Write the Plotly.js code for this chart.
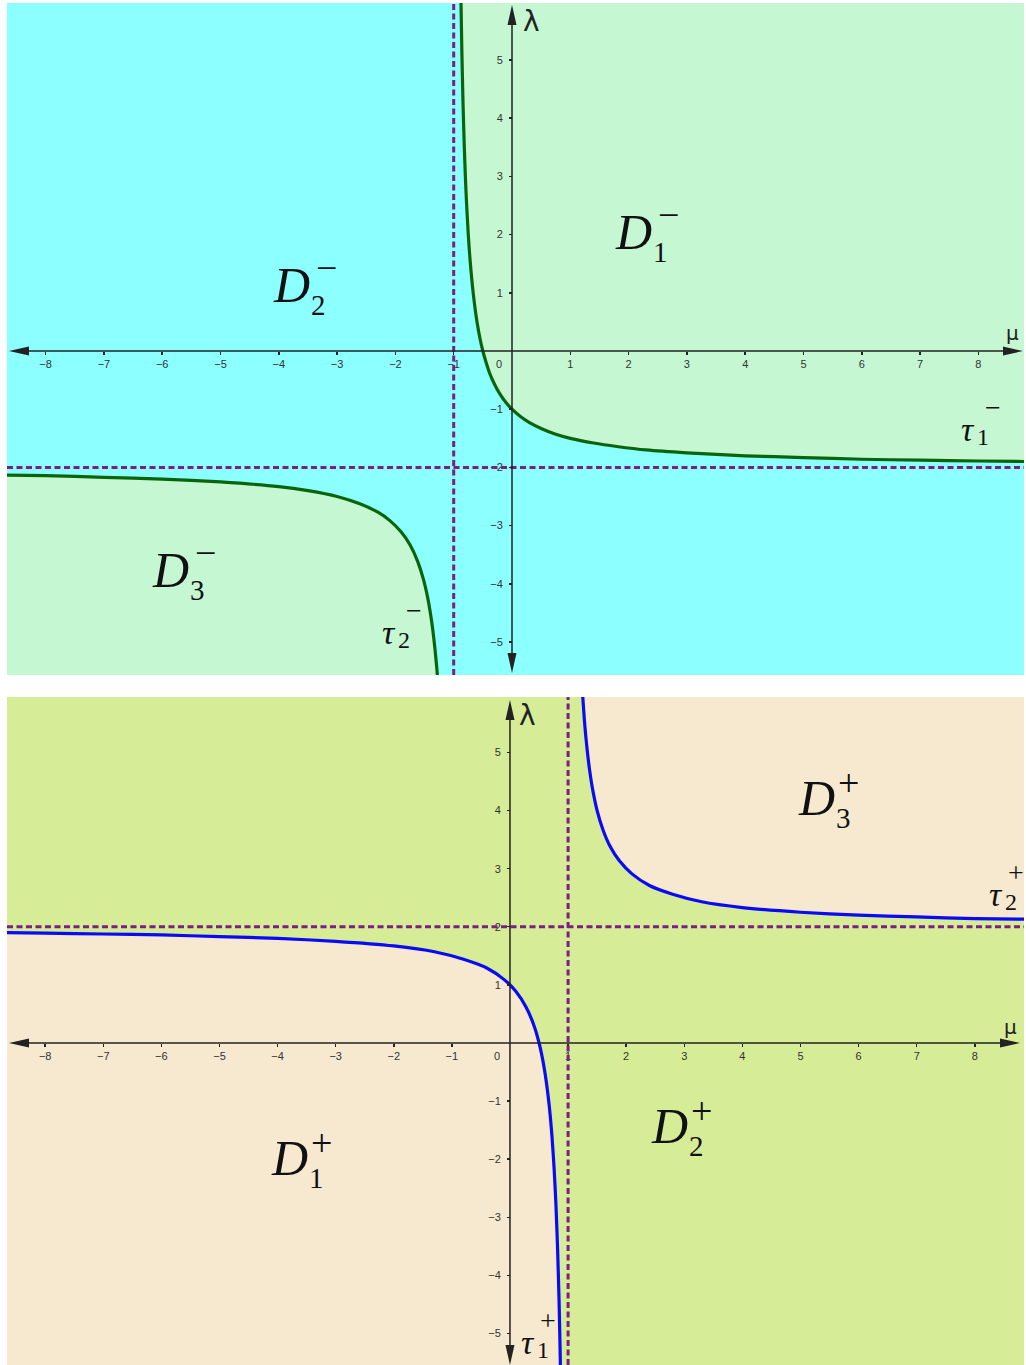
<!DOCTYPE html>
<html>
<head>
<meta charset="utf-8">
<script src="https://cdn.plot.ly/plotly-3.0.1.min.js"></script>
<style>
  html, body { margin: 0; padding: 0; background: #fff; }
  #chart { width: 1026px; height: 1365px; }
</style>
</head>
<body>
<div id="chart"></div>
<script>
// ---- data ----
// top panel (minus case): branches tau1-, tau2-, asymptotes mu = -1, lambda = -2
const tau1mX = [-0.875, -0.86, -0.84, -0.82, -0.8, -0.78, -0.75, -0.72, -0.68, -0.64, -0.6, -0.55, -0.5, -0.44, -0.38, -0.3, -0.2, -0.1, 0, 0.15, 0.3, 0.5, 0.75, 1, 1.4, 1.8, 2.3, 3, 4, 5, 6, 7, 8, 8.9];
const tau1mY = [6.0, 5.14, 4.25, 3.56, 3.0, 2.55, 2.0, 1.57, 1.13, 0.78, 0.5, 0.22, 0, -0.21, -0.39, -0.57, -0.75, -0.89, -1, -1.13, -1.23, -1.33, -1.43, -1.5, -1.58, -1.64, -1.70, -1.75, -1.8, -1.83, -1.86, -1.875, -1.89, -1.9];
const tau2mX = [-8.8, -8, -7, -6, -5, -4, -3.5, -3, -2.6, -2.3, -2.1, -1.9, -1.75, -1.62, -1.52, -1.45, -1.4, -1.36, -1.32, -1.29, -1.27];
const tau2mY = [-2.13, -2.14, -2.17, -2.2, -2.25, -2.33, -2.4, -2.5, -2.63, -2.77, -2.91, -3.11, -3.33, -3.61, -3.92, -4.22, -4.5, -4.78, -5.13, -5.45, -5.7];
const asymMinus = { mu: -1, lambda: -2 };

// bottom panel (plus case): branches tau1+, tau2+, asymptotes mu = 1, lambda = 2
const tau1pX = [-8.8, -8, -7, -6, -5, -4, -3, -2, -1.3, -0.8, -0.4, -0.1, 0.1, 0.28, 0.42, 0.52, 0.6, 0.67, 0.72, 0.76, 0.79, 0.82, 0.845, 0.865, 0.875];
const tau1pY = [1.9, 1.89, 1.875, 1.86, 1.83, 1.8, 1.75, 1.67, 1.57, 1.44, 1.29, 1.09, 0.89, 0.61, 0.28, -0.08, -0.5, -1.03, -1.57, -2.17, -2.76, -3.56, -4.45, -5.41, -6.0];
const tau2pX = [1.245, 1.26, 1.28, 1.3, 1.33, 1.37, 1.42, 1.5, 1.6, 1.72, 1.88, 2.1, 2.4, 2.8, 3.3, 4, 5, 6, 7, 8, 8.9];
const tau2pY = [6.08, 5.85, 5.57, 5.33, 5.03, 4.70, 4.38, 4.0, 3.67, 3.39, 3.14, 2.91, 2.71, 2.56, 2.43, 2.33, 2.25, 2.2, 2.17, 2.14, 2.13];
const asymPlus = { mu: 1, lambda: 2 };

const xTicks = [-8, -7, -6, -5, -4, -3, -2, -1, 1, 2, 3, 4, 5, 6, 7, 8];
const yTicks = [-5, -4, -3, -2, -1, 1, 2, 3, 4, 5];

// ---- look ----
const cyan = '#8cffff', mint = '#c5f7d3', beige = '#f7e9cf', olive = '#d6ec96';
const greenLine = '#0a650a', blueLine = '#0a0af5', purple = '#7b1e86', axisInk = '#222';

const W = 1026, H = 1365, M = { l: 7, r: 2, t: 3, b: 0 };
const xTopR = [-8.662, 8.782], yTopR = [-5.567, 5.98];
const xBotR = [-8.657, 8.847], yBotR = [-5.542, 5.955];
const topDom = [0.5066, 1], botDom = [0, 0.4905];

function zeroPos(r, dom) { return dom[0] + (0 - r[0]) / (r[1] - r[0]) * (dom[1] - dom[0]); }

const tickFont = { family: 'Liberation Sans, Arial, sans-serif', size: 11, color: '#333' };
function axisX(r, yr, dom) {
  return {
    range: r, domain: [0, 1], anchor: 'free', position: zeroPos(yr, dom),
    showgrid: false, zeroline: false, showline: false,
    tickmode: 'array', tickvals: xTicks, ticks: 'outside', ticklen: 3, tickwidth: 1.5, tickcolor: axisInk,
    tickfont: tickFont, fixedrange: true
  };
}
function axisY(r, xr, dom) {
  return {
    range: r, domain: dom, anchor: 'free', position: zeroPos(xr, [0, 1]),
    showgrid: false, zeroline: false, showline: false,
    tickmode: 'array', tickvals: yTicks, ticks: 'outside', ticklen: 3, tickwidth: 1.5, tickcolor: axisInk,
    ticklabelstandoff: 4, tickfont: tickFont, fixedrange: true
  };
}

// region polygon: a branch closed off along the panel edge
function region(xs, ys, tail, color, xa, ya) {
  return {
    x: xs.concat(tail.map(p => p[0])), y: ys.concat(tail.map(p => p[1])),
    xaxis: xa, yaxis: ya, mode: 'lines', fill: 'toself', fillcolor: color,
    line: { width: 0, color: color }, hoverinfo: 'skip', showlegend: false
  };
}
function branch(xs, ys, color, xa, ya) {
  return {
    x: xs, y: ys, xaxis: xa, yaxis: ya, mode: 'lines',
    line: { color: color, width: 3.2, shape: 'spline', smoothing: 0.6 },
    hoverinfo: 'skip', showlegend: false
  };
}

const pad = 0.5;
const traces = [
  // D1- : right of mu=-1, above tau1-
  region(tau1mX, tau1mY, [[xTopR[1] + pad, tau1mY[tau1mY.length - 1]], [xTopR[1] + pad, yTopR[1] + pad], [tau1mX[0], yTopR[1] + pad]], mint, 'x', 'y'),
  // D3- : left of mu=-1, below tau2-
  region(tau2mX, tau2mY, [[tau2mX[tau2mX.length - 1], yTopR[0] - pad], [xTopR[0] - pad, yTopR[0] - pad], [xTopR[0] - pad, tau2mY[0]]], mint, 'x', 'y'),
  // D3+ : right of mu=1, above tau2+
  region(tau2pX, tau2pY, [[xBotR[1] + pad, tau2pY[tau2pY.length - 1]], [xBotR[1] + pad, yBotR[1] + pad], [tau2pX[0], yBotR[1] + pad]], beige, 'x2', 'y2'),
  // D1+ : left of mu=1, below tau1+
  region(tau1pX, tau1pY, [[tau1pX[tau1pX.length - 1], yBotR[0] - pad], [xBotR[0] - pad, yBotR[0] - pad], [xBotR[0] - pad, tau1pY[0]]], beige, 'x2', 'y2'),
  branch(tau1mX, tau1mY, greenLine, 'x', 'y'),
  branch(tau2mX, tau2mY, greenLine, 'x', 'y'),
  branch(tau1pX, tau1pY, blueLine, 'x2', 'y2'),
  branch(tau2pX, tau2pY, blueLine, 'x2', 'y2')
];

const dashStyle = { color: purple, width: 3, dash: '6px,3.5px' };
const shapes = [
  { type: 'rect', xref: 'x domain', yref: 'y domain', x0: 0, x1: 1, y0: 0, y1: 1, fillcolor: cyan, line: { width: 0 }, layer: 'below' },
  { type: 'rect', xref: 'x2 domain', yref: 'y2 domain', x0: 0, x1: 1, y0: 0, y1: 1, fillcolor: olive, line: { width: 0 }, layer: 'below' },
  { type: 'line', xref: 'x', yref: 'y domain', x0: asymMinus.mu, x1: asymMinus.mu, y0: 0, y1: 1, line: dashStyle },
  { type: 'line', xref: 'x domain', yref: 'y', x0: 0, x1: 1, y0: asymMinus.lambda, y1: asymMinus.lambda, line: dashStyle },
  { type: 'line', xref: 'x2', yref: 'y2 domain', x0: asymPlus.mu, x1: asymPlus.mu, y0: 0, y1: 1, line: dashStyle },
  { type: 'line', xref: 'x2 domain', yref: 'y2', x0: 0, x1: 1, y0: asymPlus.lambda, y1: asymPlus.lambda, line: dashStyle }
];

// GeoGebra-style axes: a line through the origin with a long narrow filled head at each end
// inset = how many px the tips sit inside the panel edge [left, right, top, bottom]
function axisArrows(xa, ya, xr, yr, dom, inset) {
  const sx = (W - M.l - M.r) / (xr[1] - xr[0]);
  const sy = (H - M.t - M.b) * (dom[1] - dom[0]) / (yr[1] - yr[0]);
  const len = 20, half = 4.5;
  const L = xr[0] + inset[0] / sx, R = xr[1] - inset[1] / sx;
  const T = yr[1] - inset[2] / sy, B = yr[0] + inset[3] / sy;
  const tri = pts => 'M' + pts.map(p => p[0] + ',' + p[1]).join('L') + 'Z';
  const base = { xref: xa, yref: ya, line: { width: 0 }, fillcolor: axisInk, layer: 'above' };
  const axLine = { xref: xa, yref: ya, line: { color: axisInk, width: 1.5 }, layer: 'above' };
  return [
    Object.assign({ type: 'line', x0: L + len / sx, x1: R - len / sx, y0: 0, y1: 0 }, axLine),
    Object.assign({ type: 'line', x0: 0, x1: 0, y0: B + len / sy, y1: T - len / sy }, axLine),
    Object.assign({ type: 'path', path: tri([[R, 0], [R - len / sx, half / sy], [R - len / sx, -half / sy]]) }, base),
    Object.assign({ type: 'path', path: tri([[L, 0], [L + len / sx, half / sy], [L + len / sx, -half / sy]]) }, base),
    Object.assign({ type: 'path', path: tri([[0, T], [half / sx, T - len / sy], [-half / sx, T - len / sy]]) }, base),
    Object.assign({ type: 'path', path: tri([[0, B], [half / sx, B + len / sy], [-half / sx, B + len / sy]]) }, base)
  ];
}
shapes.push(...axisArrows('x', 'y', xTopR, yTopR, topDom, [2, 1, 2, 2]));
shapes.push(...axisArrows('x2', 'y2', xBotR, yBotR, botDom, [2, 4, 3, 0]));

function txt(xa, ya, x, y, text, size, opts) {
  return Object.assign({
    xref: xa, yref: ya, x: x, y: y, text: text, showarrow: false,
    xanchor: 'center', yanchor: 'middle',
    font: { family: 'Liberation Serif, Times New Roman, serif', size: size, color: '#111' }
  }, opts || {});
}
// math-style label: letter with stacked sub/superscript
function mathLabel(xa, ya, x, y, letter, sub, sup) {
  const isD = letter === 'D';
  const main = isD ? 50 : 34, small = isD ? 29 : 24;
  const supSize = isD ? 38 : 28;
  const subOff = isD ? [27, -20] : [15, -8];
  const supOff = isD ? (sup === '+' ? [32, 15] : [35, 17]) : (sup === '+' ? [20, 22] : [25, 22]);
  return [
    txt(xa, ya, x, y, '<i>' + letter + '</i>', main),
    txt(xa, ya, x, y, sub, small, { xshift: subOff[0], yshift: subOff[1] }),
    txt(xa, ya, x, y, sup, supSize, { xshift: supOff[0], yshift: supOff[1] })
  ];
}
const sansLbl = { family: 'DejaVu Sans, Liberation Sans, sans-serif', color: '#222' };
const zeroLbl = { xanchor: 'right', yanchor: 'top', xshift: -8, yshift: -5, font: tickFont };

const annotations = [
  txt('x', 'y', 0, 0, '0', 11, zeroLbl),
  txt('x2', 'y2', 0, 0, '0', 11, zeroLbl),
  txt('x', 'y', 0.33, 5.66, 'λ', 28, { font: Object.assign({ size: 28 }, sansLbl) }),
  txt('x', 'y', 8.59, 0.31, 'μ', 20, { font: Object.assign({ size: 20 }, sansLbl) }),
  txt('x2', 'y2', 0.31, 5.63, 'λ', 28, { font: Object.assign({ size: 28 }, sansLbl) }),
  txt('x2', 'y2', 8.61, 0.28, 'μ', 20, { font: Object.assign({ size: 20 }, sansLbl) })
].concat(
  mathLabel('x', 'y', 2.09, 2.04, 'D', '1', '−'),
  mathLabel('x', 'y', -3.79, 1.13, 'D', '2', '−'),
  mathLabel('x', 'y', -5.85, -3.76, 'D', '3', '−'),
  mathLabel('x', 'y', 7.82, -1.34, 'τ', '1', '−'),
  mathLabel('x', 'y', -2.11, -4.83, 'τ', '2', '−'),
  mathLabel('x2', 'y2', 5.28, 4.22, 'D', '3', '+'),
  mathLabel('x2', 'y2', 2.75, -1.43, 'D', '2', '+'),
  mathLabel('x2', 'y2', -3.80, -1.98, 'D', '1', '+'),
  mathLabel('x2', 'y2', 8.36, 2.56, 'τ', '2', '+'),
  mathLabel('x2', 'y2', 0.31, -5.15, 'τ', '1', '+')
);

const layout = {
  width: W, height: H,
  margin: M,
  paper_bgcolor: '#ffffff', plot_bgcolor: 'rgba(0,0,0,0)',
  showlegend: false,
  xaxis: axisX(xTopR, yTopR, topDom),
  yaxis: axisY(yTopR, xTopR, topDom),
  xaxis2: axisX(xBotR, yBotR, botDom),
  yaxis2: axisY(yBotR, xBotR, botDom),
  shapes: shapes,
  annotations: annotations
};

Plotly.newPlot('chart', traces, layout, { staticPlot: true, displayModeBar: false });
</script>
</body>
</html>
